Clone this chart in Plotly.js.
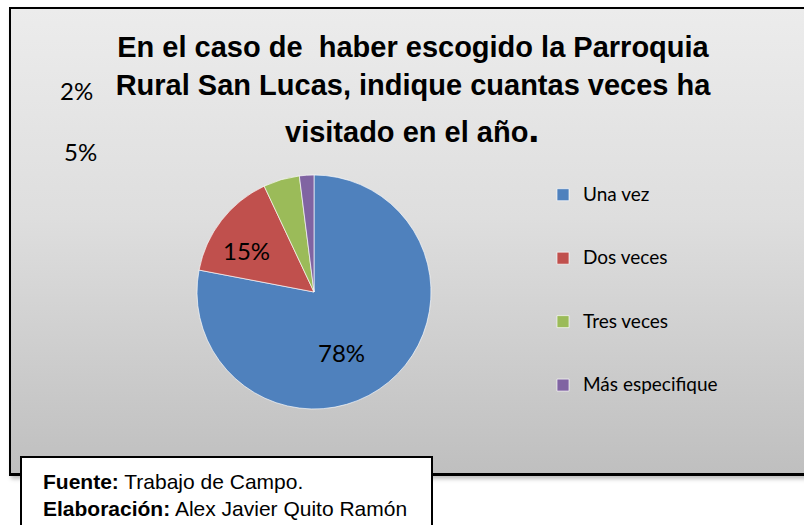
<!DOCTYPE html>
<html>
<head>
<meta charset="utf-8">
<script src="https://cdn.plot.ly/plotly-3.0.1.min.js"></script>
<style>
  html, body { margin:0; padding:0; background:#ffffff; width:804px; height:525px; overflow:hidden; }
  #frame {
    position:absolute; left:9px; top:7px; width:820px; height:464px;
    border:2px solid #000; border-bottom-width:3px;
    background:linear-gradient(to bottom, #ececec 0%, #dedede 45%, #bfbfbf 100%);
    box-shadow: 2px 3px 4px rgba(0,0,0,0.25);
  }
  #chart { position:absolute; left:0; top:0; width:804px; height:525px; }
</style>
</head>
<body>
<div id="frame"></div>
<div id="chart"></div>
<script>
// ---- data ----
var categories = ["Una vez", "Dos veces", "Tres veces", "Más especifique"];
var values = [78, 15, 5, 2];
var colors = ["#4F81BD", "#C0504D", "#9BBB59", "#8064A2"];
var titleLines = [
  "En el caso de  haber escogido la Parroquia",
  "Rural San Lucas, indique cuantas veces ha",
  "visitado en el año"
];
var sourceLabel = "Fuente:";
var sourceText = "Trabajo de Campo.";
var authorLabel = "Elaboración:";
var authorText = "Alex Javier Quito Ramón";

// ---- build ----
var W = 804, H = 525;
function px(x){ return x / W; }
function py(y){ return 1 - y / H; }

var total = values.reduce(function(a,b){return a+b;}, 0);
var pct = values.map(function(v){ return Math.round(v / total * 100) + "%"; });
var legendLabels = categories.map(function(c){
  return "\u00a0<br><span style='font-size:19px'>" + c + "</span><br>\u00a0";
});

var cx = 314, cy = 292, r = 117;
// data-label anchor spots (where the source chart placed each percentage)
var labelSpots = [[341, 352], [246, 250], [80, 151], [76, 90]];
var labelFont = { family: "Lato, 'Open Sans', sans-serif", size: 24, color: "#000000" };

var trace = {
  type: "pie",
  values: values,
  labels: legendLabels,
  sort: false,
  direction: "clockwise",
  rotation: 0,
  marker: { colors: colors, line: { color: "rgba(255,255,255,0.65)", width: 1 } },
  textinfo: "none",
  domain: { x: [px(cx - r), px(cx + r)], y: [py(cy + r), py(cy - r)] },
  hoverinfo: "label+percent"
};

var annotations = [
  { text: "<b>" + titleLines[2] + "</b><span style='font-size:40px'><b>.</b></span>",
    xref: "paper", yref: "paper", x: px(412), y: py(128), xanchor: "center", yanchor: "middle",
    showarrow: false,
    font: { family: "'Liberation Sans', Arial, sans-serif", size: 29, color: "#000000" } },
  { text: "<b>" + sourceLabel + "</b> " + sourceText + "<br><b>" + authorLabel + "</b> " + authorText,
    xref: "paper", yref: "paper", x: px(41), y: py(495), xanchor: "left", yanchor: "middle",
    align: "left", showarrow: false,
    font: { family: "'Liberation Sans', Arial, sans-serif", size: 21, color: "#000000" } }
];
pct.forEach(function(t, i){
  annotations.push({ text: t, xref: "paper", yref: "paper",
    x: px(labelSpots[i][0]), y: py(labelSpots[i][1]),
    xanchor: "center", yanchor: "middle", showarrow: false, font: labelFont });
});

var layout = {
  width: W, height: H,
  margin: { l: 0, r: 0, t: 0, b: 0 },
  paper_bgcolor: "rgba(0,0,0,0)",
  plot_bgcolor: "rgba(0,0,0,0)",
  showlegend: true,
  title: {
    text: titleLines[0] + "<br>" + titleLines[1],
    font: { family: "'Liberation Sans', Arial, sans-serif", size: 29, color: "#000000", weight: "bold" },
    x: px(413), xanchor: "center", xref: "container",
    y: py(57), yanchor: "top", yref: "container"
  },
  legend: {
    x: px(543), xanchor: "left",
    y: py(158), yanchor: "top",
    bgcolor: "rgba(0,0,0,0)",
    font: { family: "Lato, 'Open Sans', sans-serif", size: 15.5, color: "#000000" },
    traceorder: "normal",
    valign: "middle"
  },
  shapes: [
    { type: "rect", xref: "paper", yref: "paper",
      x0: px(21), x1: px(432), y0: py(560), y1: py(457),
      fillcolor: "#ffffff", line: { color: "#000000", width: 2 }, layer: "above" }
  ],
  annotations: annotations
};

Plotly.newPlot("chart", [trace], layout, { displayModeBar: false, staticPlot: true });
</script>
</body>
</html>
